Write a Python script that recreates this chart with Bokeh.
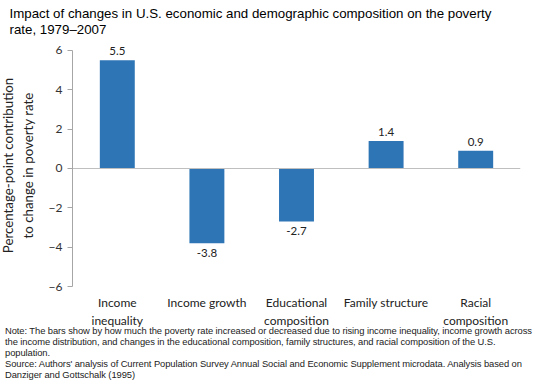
from bokeh.plotting import figure
from bokeh.models import Range1d, FixedTicker, ColumnDataSource, LabelSet, Div
from bokeh.core.properties import value
from bokeh.layouts import column
from bokeh.embed import file_html
from bokeh.resources import INLINE

categories = ["Income\ninequality", "Income growth", "Educational\ncomposition",
              "Family structure", "Racial\ncomposition"]
values = [5.5, -3.8, -2.7, 1.4, 0.9]
value_labels = ["5.5", "-3.8", "-2.7", "1.4", "0.9"]
y_ticks = [-6, -4, -2, 0, 2, 4, 6]

title_text = ("Impact of changes  in U.S. economic and demographic composition on the poverty\n"
              "rate, 1979\u20132007")
note_lines = [
    "Note: The bars show by how much the poverty rate increased or decreased due to rising income inequality, income growth across",
    "the income distribution, and changes in the educational composition, family structures, and racial composition of the U.S.",
    "population.",
    "Source: Authors' analysis of Current Population Survey Annual Social and Economic Supplement microdata. Analysis based on",
    "Danziger and Gottschalk (1995)",
]

xs = list(range(len(categories)))
label_y = [v + (0.25 if v >= 0 else -0.3) for v in values]
label_base = ["bottom" if v >= 0 else "top" for v in values]

src = ColumnDataSource(dict(x=xs, top=values, ly=label_y, lab=value_labels, base=label_base))

p = figure(width=525, height=337, output_backend="svg", toolbar_location=None,
           x_range=Range1d(-0.5, 4.5), y_range=Range1d(-6, 6.3),
           min_border_left=63, min_border_right=2, min_border_top=46, min_border_bottom=47,
           margin=(0, 0, 0, 0))
p.outline_line_color = None
p.xgrid.grid_line_color = None
p.ygrid.grid_line_color = None

p.title.text = title_text
p.title.text_font = "Liberation Sans"
p.title.text_font_size = "13.3px"
p.title.text_font_style = "normal"
p.title.text_color = "#000000"
p.title.text_line_height = 1.13
p.title.align = "left"
p.title.offset = -63
p.title.standoff = 14

p.vbar(x="x", top="top", bottom=0, width=0.39, source=src,
       fill_color="#2E75B6", line_color=None)
p.hspan(y=[0], line_color="#BFBFBF", line_width=1)

labels = LabelSet(x="x", y="ly", text="lab", source=src, text_align="center",
                  text_baseline="base", text_font=value("Lato"), text_font_size=value("11.5px"),
                  text_color="#222222")
p.add_layout(labels)

yax = p.yaxis[0]
yax.ticker = FixedTicker(ticks=y_ticks)
yax.bounds = (-6, 6)
yax.axis_line_color = "#A6A6A6"
yax.major_tick_line_color = "#A6A6A6"
yax.major_tick_in = 0
yax.major_tick_out = 5
yax.minor_tick_line_color = None
yax.major_label_text_font = "Lato"
yax.major_label_text_font_size = "12px"
yax.major_label_text_color = "#333333"
yax.axis_label = "Percentage-point contribution\nto change in poverty rate"
yax.axis_label_text_font = "Lato"
yax.axis_label_text_font_size = "13.3px"
yax.axis_label_text_font_style = "normal"
yax.axis_label_text_color = "#222222"
yax.axis_label_standoff = 10

xax = p.xaxis[0]
xax.ticker = FixedTicker(ticks=xs)
xax.major_label_overrides = {i: c for i, c in zip(xs, categories)}
xax.axis_line_color = None
xax.major_tick_line_color = None
xax.minor_tick_line_color = None
xax.major_tick_in = 0
xax.major_tick_out = 0
xax.major_label_text_font = "Lato"
xax.major_label_text_font_size = "12px"
xax.major_label_text_color = "#222222"
xax.major_label_standoff = 8

note_html = ('<div style="font-family:\'Liberation Sans\',Arial,sans-serif;font-size:9.4px;'
             'line-height:11px;color:#222222;white-space:nowrap;letter-spacing:-0.08px;">'
             + "<br>".join(note_lines) + "</div>")
note = Div(text=note_html, width=525, height=56, margin=(-8, 0, 0, 8),
           styles={"background-color": "transparent"})

layout = column(p, note, spacing=0, margin=(-4, 0, 0, -3))

open("out.html", "w").write(file_html(layout, INLINE))
